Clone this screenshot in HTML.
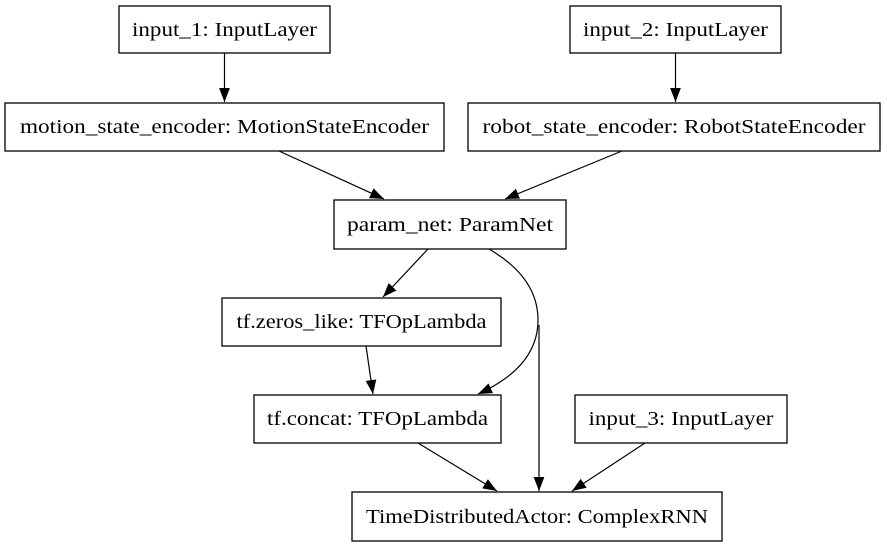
<!DOCTYPE html>
<html><head><meta charset="utf-8"><style>html,body{margin:0;padding:0;background:#fff}svg{display:block}</style></head>
<body>
<svg width="887" height="547" viewBox="0 0 887 547" xmlns="http://www.w3.org/2000/svg" font-family="'Liberation Serif', serif" font-size="20">
<defs><marker id="a" markerWidth="14" markerHeight="12" refX="13" refY="5" orient="auto" markerUnits="userSpaceOnUse" viewBox="0 0 13 10"><path d="M0,0 L13,5 L0,10 z" fill="#000"/></marker></defs>
<g fill="#fff" stroke="#000" stroke-width="1.3">
<rect x="119" y="6" width="211" height="47"/>
<rect x="570" y="6" width="211" height="47"/>
<rect x="5" y="103" width="439" height="48"/>
<rect x="468" y="103" width="412" height="48"/>
<rect x="334" y="200" width="232" height="49"/>
<rect x="222" y="298" width="279" height="48"/>
<rect x="254" y="395" width="247" height="48"/>
<rect x="575" y="395" width="212" height="48"/>
<rect x="352" y="492" width="370" height="49"/>
</g>
<g fill="none" stroke="#000" stroke-width="1.2" marker-end="url(#a)">
<path d="M224.5,53 L224.5,102"/>
<path d="M675.5,53 L675.5,102"/>
<path d="M279,151 L384,199"/>
<path d="M622,151 L505,199"/>
<path d="M428,249 L383,297"/>
<path d="M366,346 L373,394"/>
<path d="M489,249 C525,270 538,295 538,320 C538,350 520,375 478,394"/>
<path d="M539,325 L539,491"/>
<path d="M418,443 L497,491"/>
<path d="M645,443 L572,491"/>
</g>
<g text-anchor="middle" fill="#000">
<text x="224.5" y="36" textLength="185" lengthAdjust="spacingAndGlyphs">input_1: InputLayer</text>
<text x="675.5" y="36" textLength="185" lengthAdjust="spacingAndGlyphs">input_2: InputLayer</text>
<text x="224.5" y="133" textLength="409" lengthAdjust="spacingAndGlyphs">motion_state_encoder: MotionStateEncoder</text>
<text x="674" y="133" textLength="383" lengthAdjust="spacingAndGlyphs">robot_state_encoder: RobotStateEncoder</text>
<text x="450" y="231" textLength="206" lengthAdjust="spacingAndGlyphs">param_net: ParamNet</text>
<text x="361.5" y="328" textLength="250" lengthAdjust="spacingAndGlyphs">tf.zeros_like: TFOpLambda</text>
<text x="377.5" y="425" textLength="221" lengthAdjust="spacingAndGlyphs">tf.concat: TFOpLambda</text>
<text x="681" y="425" textLength="185" lengthAdjust="spacingAndGlyphs">input_3: InputLayer</text>
<text x="537" y="523" textLength="342" lengthAdjust="spacingAndGlyphs">TimeDistributedActor: ComplexRNN</text>
</g>
</svg>
</body></html>
